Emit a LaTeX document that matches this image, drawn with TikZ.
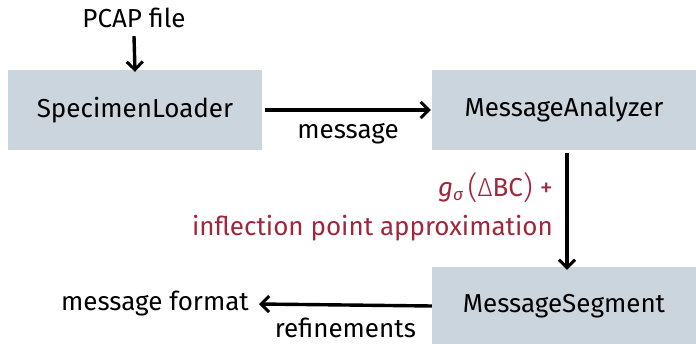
\documentclass[tikz,border=0pt]{standalone}
\usepackage{fontspec}
\setmainfont{Fira Sans}
\newfontfamily\thinfont{Fira Sans Light}
\usetikzlibrary{arrows.meta}
\definecolor{boxfill}{RGB}{202,213,221}
\definecolor{formula}{RGB}{160,38,60}
\newcommand{\sigmasub}{\raisebox{-0.3ex}{\fontsize{17}{17}\selectfont\textit{σ}}}
\newcommand{\bigparen}[1]{\raisebox{-0.12ex}{\thinfont\fontsize{31}{31}\selectfont #1}}
\begin{document}
\begin{tikzpicture}[x=1pt,y=-1pt,
  font=\fontsize{26}{30}\selectfont,
  unit/.style={fill=boxfill, minimum height=80pt, inner sep=0pt},
  flow/.style={line width=3.4pt, -{Straight Barb[length=8pt,width=16pt,line width=3pt]}},
  lbl/.style={inner sep=0pt}]
\useasboundingbox (0,0) rectangle (696,344);
% components
\node[unit, minimum width=254pt] (loader) at (135,110) {SpecimenLoader};
\node[unit, minimum width=264pt] (analyzer) at (564,110) {MessageAnalyzer};
\node[unit, minimum width=264pt, minimum height=78pt] (segment) at (564,306) {MessageSegment};
% input and output texts
\node[lbl] (pcap) at (134,18) {PCAP file};
\node[lbl, anchor=east] (format) at (249,304) {message format};
% connectors
\draw[flow] (pcap.south) ++(0,8) coordinate (pcapout) -- ([yshift=-2pt]loader.north);
\draw[flow] (loader.east) ++(3,0) -- node[lbl, below=12pt] (msg) {message} ([xshift=-1pt]analyzer.west);
\draw[flow] (analyzer.south) ++(3,3) -- ([xshift=3pt,yshift=-3pt]segment.north);
\draw[flow] (segment.west) -- node[lbl, below=11pt] (ref) {refinements} ([xshift=10pt]format.east);
% method label
\node[lbl, anchor=east, text=formula, align=right] (method) at (553,207)
  {\textit{g}\sigmasub\,\bigparen{(}{\thinfont Δ}BC\bigparen{)} +\\[9pt] inflection point approximation};
\end{tikzpicture}
\end{document}
